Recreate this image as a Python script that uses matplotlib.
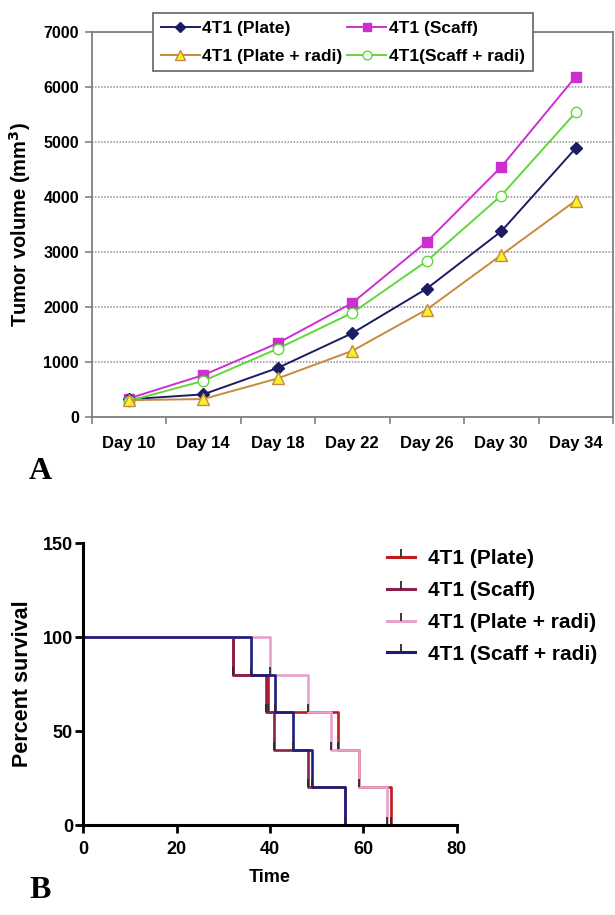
import numpy as np
import matplotlib
matplotlib.use("Agg")
import matplotlib.pyplot as plt
from matplotlib.lines import Line2D

plt.rcParams['font.family'] = ['Liberation Sans', 'DejaVu Sans']

# --- panel A: tumour growth ---
days = ['Day 10', 'Day 14', 'Day 18', 'Day 22', 'Day 26', 'Day 30', 'Day 34']
plate = [330, 420, 900, 1530, 2340, 3380, 4890]
scaff = [345, 770, 1350, 2080, 3190, 4550, 6190]
plate_radi = [315, 335, 710, 1210, 1960, 2950, 3940]
scaff_radi = [300, 665, 1250, 1900, 2840, 4030, 5540]

# --- panel B: survival (time of each drop, percent after it) ---
surv_levels = [100, 80, 60, 40, 20, 0]
t_plate = [0, 32, 39.6, 54.6, 59, 66]
t_scaff = [0, 32, 39.2, 40.8, 48.2, 56]
t_plate_radi = [0, 40, 48.2, 53, 59, 65]
t_scaff_radi = [0, 36, 41, 45, 49, 56]

W, H = 615, 915
fig = plt.figure(figsize=(W / 100, H / 100), dpi=100)

# top panel
ax1 = fig.add_axes([91.5 / W, 1 - 417.5 / H, (613 - 91.5) / W, (417.5 - 32) / H])
x = np.arange(len(days))
l_p, = ax1.plot(x, plate, color='#1c1c64', lw=1.4, marker='D', ms=6.5, mfc='#1c1c64',
                mec='#1c1c64', label='4T1 (Plate)', zorder=4)
l_s, = ax1.plot(x, scaff, color='#cc2fd0', lw=1.4, marker='s', ms=7.5, mfc='#cc2fd0',
                mec='#cc2fd0', label='4T1 (Scaff)', zorder=3)
l_pr, = ax1.plot(x, plate_radi, color='#c88a3c', lw=1.4, marker='^', ms=8.5, mfc='#f4f02c',
                 mec='#c88a3c', label='4T1 (Plate + radi)', zorder=5)
l_sr, = ax1.plot(x, scaff_radi, color='#5fd83a', lw=1.4, marker='o', ms=7.5, mfc='white',
                 mec='#5fd83a', label='4T1(Scaff + radi)', zorder=4)

ax1.set_xlim(-0.5, 6.5)
ax1.set_ylim(0, 7000)
ax1.set_yticks(np.arange(0, 7001, 1000))
ax1.set_xticks(x)
ax1.set_xticklabels(days)
ax1.set_xticks(np.arange(-0.5, 7, 1), minor=True)
ax1.tick_params(axis='x', which='major', length=0, pad=13, labelsize=12)
ax1.tick_params(axis='x', which='minor', length=5, color='#808080', width=1.2)
ax1.tick_params(axis='y', length=5, color='#808080', width=1.2, pad=4, labelsize=11.5)
for lab in ax1.get_xticklabels() + ax1.get_yticklabels():
    lab.set_fontweight('bold')
ax1.yaxis.grid(True, linestyle=(0, (1, 1)), color='#909090', lw=1.1)
ax1.set_axisbelow(True)
for s in ax1.spines.values():
    s.set_color('#808080')
    s.set_linewidth(1.3)
ax1.set_ylabel('Tumor volume (mm$^\\mathbf{3}$)', fontsize=14.5, fontweight='bold')
ax1.yaxis.set_label_coords((33 - 91.5) / (613 - 91.5), 0.5)

leg1 = ax1.legend(handles=[l_p, l_pr, l_s, l_sr], loc='upper left',
                  bbox_to_anchor=(153 / W, 1 - 13 / H),
                  bbox_transform=fig.transFigure, ncol=2,
                  prop={'weight': 'bold', 'size': 12.5}, frameon=True, fancybox=False,
                  edgecolor='#707070', framealpha=1, handlelength=2.25, handletextpad=0.15,
                  columnspacing=0.25, borderpad=0.45, labelspacing=0.72,
                  borderaxespad=0, markerscale=0.85)
leg1.get_frame().set_linewidth(1.3)
leg1.set_zorder(10)

fig.text(40 / W, 1 - 471 / H, 'A', family='Liberation Serif', fontsize=23,
         fontweight='bold', ha='center', va='center')

# bottom panel
ax2 = fig.add_axes([83.3 / W, 1 - 825 / H, (456.7 - 83.3) / W, (825 - 543) / H])
tick_up = [(0, 0), (0, 1)]
groups = [
    (t_plate, '#c21a1f', '4T1 (Plate)'),
    (t_scaff, '#8a1f4c', '4T1 (Scaff)'),
    (t_plate_radi, '#e8a2cc', '4T1 (Plate + radi)'),
    (t_scaff_radi, '#1d1d7e', '4T1 (Scaff + radi)'),
]
handles = []
for times, col, lab in groups:
    ax2.step(times, surv_levels, where='post', color=col, lw=1.9, clip_on=False)
    ax2.plot(times[1:], surv_levels[1:], ls='none', marker=tick_up, ms=11,
             mec='#2a2a2a', mfc='none', mew=1.3, clip_on=False)
    handles.append(Line2D([], [], color=col, lw=2.2, marker=tick_up, ms=12,
                          mec='#2a2a2a', mfc='none', mew=1.3, label=lab))

ax2.set_xlim(0, 80)
ax2.set_ylim(0, 150)
ax2.set_xticks([0, 20, 40, 60, 80])
ax2.set_yticks([0, 50, 100, 150])
for s in ['top', 'right']:
    ax2.spines[s].set_visible(False)
for s in ['left', 'bottom']:
    ax2.spines[s].set_linewidth(2.2)
    ax2.spines[s].set_color('black')
ax2.tick_params(length=5.5, width=2, labelsize=13, pad=2)
ax2.tick_params(axis='x', pad=6)
for lab in ax2.get_xticklabels() + ax2.get_yticklabels():
    lab.set_fontweight('bold')
ax2.set_xlabel('Time', fontsize=13, fontweight='bold', labelpad=8)
ax2.set_ylabel('Percent survival', fontsize=15.5, fontweight='bold')
ax2.yaxis.set_label_coords((33 - 83.3) / (456.7 - 83.3), 0.5)

ax2.legend(handles=handles, loc='upper left', bbox_to_anchor=(387 / W, 1 - 549 / H),
           bbox_transform=fig.transFigure, frameon=False,
           prop={'weight': 'bold', 'size': 15}, handlelength=1.35,
           handletextpad=0.6, labelspacing=0.62, borderpad=0, borderaxespad=0)

fig.text(40 / W, 1 - 890 / H, 'B', family='Liberation Serif', fontsize=23,
         fontweight='bold', ha='center', va='center')

fig.savefig('out.png', dpi=100)
